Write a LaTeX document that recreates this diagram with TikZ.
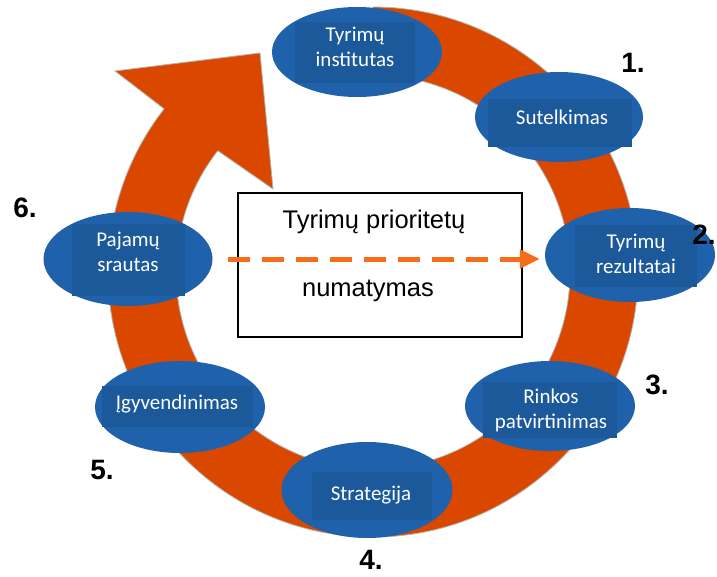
\documentclass[tikz,border=0pt]{standalone}
\usepackage{fontspec}
\setmainfont{Liberation Sans}
\newfontfamily\calfont{Carlito}
\usetikzlibrary{shapes.geometric,arrows.meta}
\definecolor{ringc}{RGB}{218,72,0}
\definecolor{ellc}{RGB}{31,97,170}
\definecolor{rectc}{RGB}{27,89,155}
\definecolor{dashc}{RGB}{247,108,25}
\tikzset{
  ell/.style={ellipse, fill=ellc, inner sep=0pt, draw=none},
  rbox/.style={rectangle, fill=rectc, inner sep=0pt},
  wtext/.style={text=white, align=center, inner sep=0pt,
    font=\calfont\fontsize{21}{25}\selectfont},
  cbox/.style={rectangle, draw=black, line width=1.2pt, fill=white, inner sep=0pt},
  ctext/.style={font=\fontsize{25.5}{29}\selectfont, inner sep=0pt},
  numlab/.style={font=\bfseries\fontsize{28}{32}\selectfont, inner sep=0pt},
  dasharrow/.style={dashc, line width=5pt, dash pattern=on 22pt off 12pt,
    -{Triangle[length=20pt,width=18pt]}}
}
\begin{document}
\begin{tikzpicture}[x=1pt,y=-1pt]
\useasboundingbox (0,0) rectangle (717,576);
% ring arrow
\path[fill=ringc, draw=gray!60, line width=0.8pt]
  (373,272) ++(-90:265) arc[start angle=-90, end angle=218, radius=265]
  -- (115,71) -- (260,53) -- (273,189) -- (217.8,150.7)
  arc[start angle=218, end angle=-90, radius=197] -- cycle;
% ellipses
\node[ell, minimum width=170pt, minimum height=90pt] (e1) at (357,52) {};
\node[ell, minimum width=168pt, minimum height=90pt] (e2) at (559,117) {};
\node[ell, minimum width=170pt, minimum height=94pt] (e3) at (630,255) {};
\node[ell, minimum width=169pt, minimum height=94pt] (e4) at (128,259) {};
\node[ell, minimum width=170pt, minimum height=92pt] (e5) at (180,407) {};
\node[ell, minimum width=170pt, minimum height=90pt] (e6) at (550,406) {};
\node[ell, minimum width=171pt, minimum height=96pt] (e7) at (367,490) {};
% inner boxes
\node[rbox, minimum width=120pt, minimum height=61pt] (r1) at (355,52.5) {};
\node[rbox, minimum width=144pt, minimum height=48pt] (r2) at (560,123) {};
\node[rbox, minimum width=122pt, minimum height=62pt] (r3) at (636,256) {};
\node[rbox, minimum width=113pt, minimum height=72pt] (r4) at (128,260) {};
\node[rbox, minimum width=151pt, minimum height=41pt] (r5) at (177.5,406.5) {};
\node[rbox, minimum width=134pt, minimum height=56pt] (r6) at (550,410) {};
\node[rbox, minimum width=120pt, minimum height=48pt] (r7) at (372,496) {};
% labels
\node[wtext] (t1) at (355,47) {Tyrimų\\institutas};
\node[wtext] (t2) at (562,117) {Sutelkimas};
\node[wtext] (t3) at (636,254) {Tyrimų\\rezultatai};
\node[wtext] (t4) at (128,252) {Pajamų\\srautas};
\node[wtext] (t5) at (177,404) {Įgyvendinimas};
\node[wtext] (t6) at (551,410) {Rinkos\\patvirtinimas};
\node[wtext] (t7) at (371,495) {Strategija};
% centre box
\node[cbox, minimum width=284pt, minimum height=144pt] (c) at (380,265) {};
\node[ctext] (c1) at (374,222) {Tyrimų prioritetų};
\node[ctext] (c2) at (368,291) {numatymas};
% dashed arrow
\draw[dasharrow] ([xshift=15pt]e4.east) -- ([xshift=-5pt]e4.east -| e3.west);
% numbers
\node[numlab] (n1) at (633,63) {1.};
\node[numlab] (n2) at (704,235) {2.};
\node[numlab] (n3) at (657,385) {3.};
\node[numlab] (n4) at (371,560) {4.};
\node[numlab] (n5) at (102,470) {5.};
\node[numlab] (n6) at (25,208) {6.};
\end{tikzpicture}
\end{document}
